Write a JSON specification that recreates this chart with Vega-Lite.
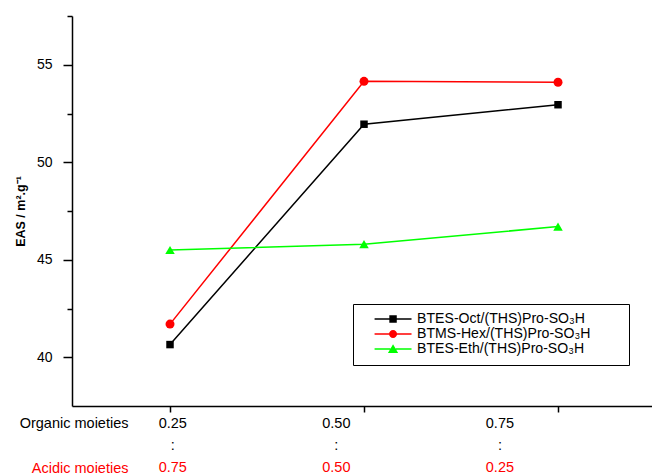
{
  "$schema": "https://vega.github.io/schema/vega-lite/v6.json",
  "padding": {"left": 14, "top": 15, "right": 0, "bottom": 0},
  "spacing": 2,
  "config": {
    "view": {"stroke": null},
    "font": "Liberation Sans",
    "axis": {"labelFont": "Liberation Sans", "titleFont": "Liberation Sans", "domainColor": "black", "tickColor": "black", "labelColor": "black", "titleColor": "black", "grid": false, "domainWidth": 1.5, "tickWidth": 1.5},
    "legend": {"labelFont": "Liberation Sans"}
  },
  "datasets": {
    "eas": [
      {"series": "BTES-Oct/(THS)Pro-SO₃H", "organic": 0.25, "eas": 40.65},
      {"series": "BTES-Oct/(THS)Pro-SO₃H", "organic": 0.5, "eas": 51.95},
      {"series": "BTES-Oct/(THS)Pro-SO₃H", "organic": 0.75, "eas": 52.95},
      {"series": "BTMS-Hex/(THS)Pro-SO₃H", "organic": 0.25, "eas": 41.7},
      {"series": "BTMS-Hex/(THS)Pro-SO₃H", "organic": 0.5, "eas": 54.15},
      {"series": "BTMS-Hex/(THS)Pro-SO₃H", "organic": 0.75, "eas": 54.1},
      {"series": "BTES-Eth/(THS)Pro-SO₃H", "organic": 0.25, "eas": 45.5},
      {"series": "BTES-Eth/(THS)Pro-SO₃H", "organic": 0.5, "eas": 45.8},
      {"series": "BTES-Eth/(THS)Pro-SO₃H", "organic": 0.75, "eas": 46.7}
    ],
    "labels": [
      {"row": "Organic moieties", "organic": 0.25, "label": "0.25"},
      {"row": "Organic moieties", "organic": 0.5, "label": "0.50"},
      {"row": "Organic moieties", "organic": 0.75, "label": "0.75"},
      {"row": "sep", "organic": 0.25, "label": ":"},
      {"row": "sep", "organic": 0.5, "label": ":"},
      {"row": "sep", "organic": 0.75, "label": ":"},
      {"row": "Acidic moieties", "organic": 0.25, "label": "0.75"},
      {"row": "Acidic moieties", "organic": 0.5, "label": "0.50"},
      {"row": "Acidic moieties", "organic": 0.75, "label": "0.25"}
    ]
  },
  "vconcat": [
    {
      "width": 581,
      "height": 390,
      "data": {"name": "eas"},
      "encoding": {
        "x": {"field": "organic", "type": "quantitative", "scale": {"domain": [0.1237, 0.8724], "nice": false, "zero": false},
          "axis": {"values": [0.25, 0.5, 0.75], "labels": false, "title": null, "tickSize": 6}},
        "y": {"field": "eas", "type": "quantitative", "scale": {"domain": [37.5, 57.5], "nice": false, "zero": false},
          "axis": {"values": [40, 42.5, 45, 47.5, 50, 52.5, 55, 57.5],
            "labelExpr": "datum.value % 5 == 0 ? datum.label : ''",
            "tickSize": {"condition": {"test": "datum.value % 5 != 0", "value": 5}, "value": 9},
            "labelPadding": 11, "labelFontSize": 14,
            "title": "EAS / m².g⁻¹", "titleFontSize": 12.5, "titleFontWeight": "bold", "titlePadding": 9}}
      },
      "layer": [
        {"mark": {"type": "line", "strokeWidth": 1.5},
          "encoding": {"stroke": {"field": "series", "type": "nominal",
            "scale": {"range": ["#00ff00", "#000000", "#ff0000"]},
            "legend": null}}},
        {"transform": [{"filter": "datum.series == 'BTES-Oct/(THS)Pro-SO₃H'"}],
          "mark": {"type": "point", "shape": "square", "filled": true, "size": 56, "opacity": 1},
          "encoding": {"fill": {"field": "series", "type": "nominal",
            "scale": {"range": ["#00ff00", "#000000", "#ff0000"]},
            "legend": null}}},
        {"transform": [{"filter": "datum.series == 'BTMS-Hex/(THS)Pro-SO₃H'"}],
          "mark": {"type": "point", "shape": "circle", "filled": true, "size": 81, "opacity": 1},
          "encoding": {"fill": {"field": "series", "type": "nominal", "legend": null}}},
        {"transform": [{"filter": "datum.series == 'BTES-Eth/(THS)Pro-SO₃H'"}],
          "mark": {"type": "point", "shape": "triangle-up", "filled": true, "size": 90, "opacity": 1},
          "encoding": {"fill": {"field": "series", "type": "nominal", "legend": null}}},
        {"transform": [{"filter": "false"}],
          "mark": {"type": "point", "filled": true, "opacity": 1},
          "encoding": {
            "color": {"field": "series", "type": "nominal",
              "scale": {"domain": ["BTES-Oct/(THS)Pro-SO₃H", "BTMS-Hex/(THS)Pro-SO₃H", "BTES-Eth/(THS)Pro-SO₃H"], "range": ["#000000", "#ff0000", "#00ff00"]},
              "legend": {"title": null,
                "orient": "none", "legendX": 281, "legendY": 288,
                "strokeColor": "black", "fillColor": "white", "padding": 8,
                "symbolSize": 144, "symbolOffset": 25, "labelOffset": 17, "rowPadding": 0,
                "labelFontSize": 14.1, "labelLimit": 400, "labelColor": "black",
                "labelExpr": "datum.label + '\u2800\u2800\u2800'"}},
            "shape": {"field": "series", "type": "nominal",
              "scale": {"domain": ["BTES-Oct/(THS)Pro-SO₃H", "BTMS-Hex/(THS)Pro-SO₃H", "BTES-Eth/(THS)Pro-SO₃H"],
                "range": [
                  "M-3.08,-0.125H-0.62V0.125H-3.08Z M0.62,-0.125H3.08V0.125H0.62Z M-0.62,-0.62H0.62V0.62H-0.62Z",
                  "M-3.08,-0.125H-0.6V0.125H-3.08Z M0.6,-0.125H3.08V0.125H0.6Z M0.67,0A0.67,0.67 0 1,1 -0.67,0A0.67,0.67 0 1,1 0.67,0Z",
                  "M-3.08,-0.125H-0.45V0.125H-3.08Z M0.45,-0.125H3.08V0.125H0.45Z M0,-0.8L0.85,0.65H-0.85Z"
                ]}}
          }}
      ]
    },
    {
      "width": 581,
      "height": 60,
      "data": {"name": "labels"},
      "mark": {"type": "text", "fontSize": 14.5, "font": "Liberation Sans"},
      "encoding": {
        "x": {"field": "organic", "type": "quantitative", "scale": {"domain": [0.096, 0.984], "nice": false, "zero": false}, "axis": null},
        "y": {"field": "row", "type": "ordinal", "scale": {"domain": ["Organic moieties", "sep", "Acidic moieties"], "padding": 0.36},
          "axis": {"title": null, "domain": false, "ticks": false, "labelPadding": -56, "labelFontSize": 14.5,
            "labelExpr": "datum.value == 'sep' ? '' : datum.value",
            "labelColor": {"condition": {"test": "datum.value == 'Acidic moieties'", "value": "#ff0000"}, "value": "black"}}},
        "text": {"field": "label"},
        "color": {"condition": {"test": "datum.row == 'Acidic moieties'", "value": "#ff0000"}, "value": "black"}
      }
    }
  ]
}
